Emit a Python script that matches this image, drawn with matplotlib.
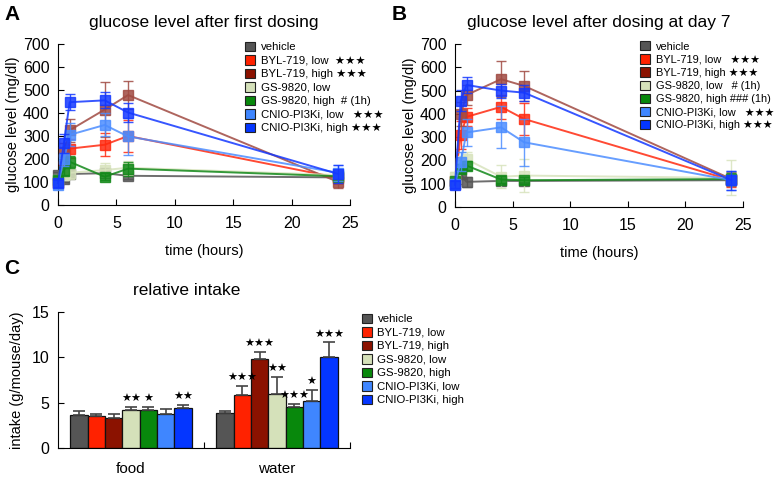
import matplotlib.pyplot as plt
import numpy as np

plt.rcParams['font.family'] = ['Liberation Sans', 'DejaVu Sans']

# ---- data ----
times = [0, 0.5, 1, 4, 6, 24]
groups = ['vehicle', 'BYL-719, low', 'BYL-719, high', 'GS-9820, low',
          'GS-9820, high', 'CNIO-PI3Ki, low', 'CNIO-PI3Ki, high']
line_colors = ['#555555', '#ff2a10', '#a04a42', '#d8e3bd', '#13891a', '#4c8dff', '#1438ff']
bar_colors = ['#555555', '#ff2200', '#8b1200', '#d5e1ba', '#08880c', '#3f86ff', '#0436ff']

labels_A = ['vehicle', 'BYL-719, low  \u2605\u2605\u2605', 'BYL-719, high \u2605\u2605\u2605',
            'GS-9820, low', 'GS-9820, high  # (1h)',
            'CNIO-PI3Ki, low   \u2605\u2605\u2605', 'CNIO-PI3Ki, high \u2605\u2605\u2605']
labels_B = ['vehicle', 'BYL-719, low   \u2605\u2605\u2605', 'BYL-719, high \u2605\u2605\u2605',
            'GS-9820, low   # (1h)', 'GS-9820, high ### (1h)',
            'CNIO-PI3Ki, low   \u2605\u2605\u2605', 'CNIO-PI3Ki, high \u2605\u2605\u2605']

glc_A = [
    [130, 112, 135, 138, 127, 120],
    [95, 170, 245, 262, 300, 118],
    [100, 230, 325, 415, 478, 100],
    [110, 130, 140, 152, 162, 130],
    [110, 150, 188, 123, 158, 125],
    [88, 198, 305, 348, 298, 140],
    [95, 268, 447, 455, 402, 135],
]
err_A = [
    [15, 10, 15, 15, 15, 20],
    [15, 30, 40, 50, 70, 25],
    [15, 40, 50, 120, 60, 25],
    [15, 20, 25, 30, 30, 25],
    [15, 20, 25, 15, 30, 25],
    [15, 30, 50, 50, 80, 35],
    [15, 40, 35, 35, 40, 40],
]
glc_B = [
    [100, 140, 108, 112, 112, 115],
    [110, 310, 387, 430, 378, 115],
    [110, 400, 481, 549, 520, 120],
    [130, 190, 205, 130, 135, 125],
    [110, 165, 178, 118, 115, 120],
    [100, 195, 320, 342, 278, 115],
    [95, 457, 524, 500, 491, 115],
]
err_B = [
    [15, 20, 20, 15, 15, 20],
    [20, 60, 40, 50, 70, 30],
    [20, 50, 45, 76, 65, 30],
    [20, 30, 30, 50, 70, 75],
    [15, 20, 20, 15, 15, 25],
    [20, 40, 60, 90, 100, 40],
    [15, 45, 35, 30, 35, 40],
]

intake_cats = ['food', 'water']
food_mean = [3.69, 3.54, 3.36, 4.24, 4.17, 3.73, 4.43]
food_err = [0.37, 0.19, 0.44, 0.30, 0.37, 0.59, 0.33]
water_mean = [3.84, 5.9, 9.8, 5.98, 4.54, 5.13, 10.0]
water_err = [0.26, 0.93, 0.8, 1.88, 0.36, 1.25, 1.66]
food_sig = ['', '', '', '\u2605\u2605', '\u2605', '', '\u2605\u2605']
water_sig = ['', '\u2605\u2605\u2605', '\u2605\u2605\u2605', '\u2605\u2605', '\u2605\u2605\u2605', '\u2605', '\u2605\u2605\u2605']

W, H = 778, 482
fig = plt.figure(figsize=(W / 100, H / 100), dpi=100)


def box(x0, x1, ytop, ybot):
    return [x0 / W, 1 - ybot / H, (x1 - x0) / W, (ybot - ytop) / H]


def style(ax):
    for s in ['top', 'right']:
        ax.spines[s].set_visible(False)
    ax.tick_params(direction='in', length=4, labelsize=11.5)
    ax.tick_params(axis='x', pad=8)
    ax.tick_params(axis='y', pad=6)


def glucose_panel(rect, data, errs, labels, title, letter, letter_x, leg_x, leg_fs):
    ax = fig.add_axes(rect)
    style(ax)
    for i in range(len(groups)):
        ax.errorbar(times, data[i], yerr=errs[i], color=line_colors[i], lw=1.4,
                    marker='s', ms=6.5, mec=line_colors[i], capsize=3.5, elinewidth=1,
                    alpha=0.85, clip_on=False, zorder=3 + i)
    ax.set_xlim(0, 25)
    ax.set_ylim(0, 700)
    ax.set_xticks([0, 5, 10, 15, 20, 25])
    ax.set_yticks(range(0, 701, 100))
    ax.set_xlabel('time (hours)', fontsize=10.5, labelpad=9)
    ax.set_ylabel('glucose level (mg/dl)', fontsize=10.5, labelpad=2)
    ax.set_title(title, fontsize=12.5, pad=12)
    hs = [plt.Rectangle((0, 0), 1, 1, fc=c, ec='#222222', lw=0.8) for c in bar_colors]
    ax.legend(hs, labels, loc='upper left', bbox_to_anchor=(leg_x, 1.05), frameon=False,
              fontsize=leg_fs, handlelength=0.9, handleheight=0.9, handletextpad=0.5,
              labelspacing=0.25, borderpad=0)
    fig.text(letter_x / W, 1 - 14 / H, letter, fontsize=15, fontweight='bold', va='center')
    return ax


glucose_panel(box(58, 350, 44, 205), glc_A, err_A, labels_A,
              'glucose level after first dosing', 'A', 4, 0.62, 8.2)
glucose_panel(box(455, 743, 44, 207), glc_B, err_B, labels_B,
              'glucose level after dosing at day 7', 'B', 392, 0.625, 7.9)

# ---- panel C ----
axc = fig.add_axes(box(58, 350, 312, 448))
style(axc)
bw = 0.1185
centers = [0.5, 1.5]
for i in range(len(groups)):
    xs = [c + (i - 3) * bw for c in centers]
    vals = [food_mean[i], water_mean[i]]
    errs = [food_err[i], water_err[i]]
    axc.bar(xs, vals, width=bw, color=bar_colors[i], edgecolor='#111111', lw=0.9,
            yerr=[[0, 0], errs], capsize=4,
            error_kw=dict(ecolor='#444444', elinewidth=1.2, capthick=1.2), zorder=2)
    for x, v, e, s in zip(xs, vals, errs, [food_sig[i], water_sig[i]]):
        if s:
            axc.text(x, v + e + 0.3, s, ha='center', va='bottom', fontsize=8,
                     family=['DejaVu Sans'])
axc.set_xlim(0, 2)
axc.set_ylim(0, 15)
axc.set_yticks([0, 5, 10, 15])
axc.set_xticks([1, 2])
axc.set_xticklabels(['', ''])
for c, lab in zip(centers, intake_cats):
    axc.text(c, -1.5, lab, ha='center', va='top', fontsize=11)
axc.set_ylabel('intake (g/mouse/day)', fontsize=10.5, labelpad=6)
axc.set_title('relative intake', fontsize=12.5, pad=12, x=0.44)
hs = [plt.Rectangle((0, 0), 1, 1, fc=c, ec='#222222', lw=0.8) for c in bar_colors]
axc.legend(hs, groups, loc='upper left', bbox_to_anchor=(1.02, 1.03), frameon=False,
           fontsize=8.2, handlelength=0.9, handleheight=0.9, handletextpad=0.5,
           labelspacing=0.25, borderpad=0)
fig.text(4 / W, 1 - 268 / H, 'C', fontsize=15, fontweight='bold', va='center')

fig.savefig('out.png', dpi=100)
